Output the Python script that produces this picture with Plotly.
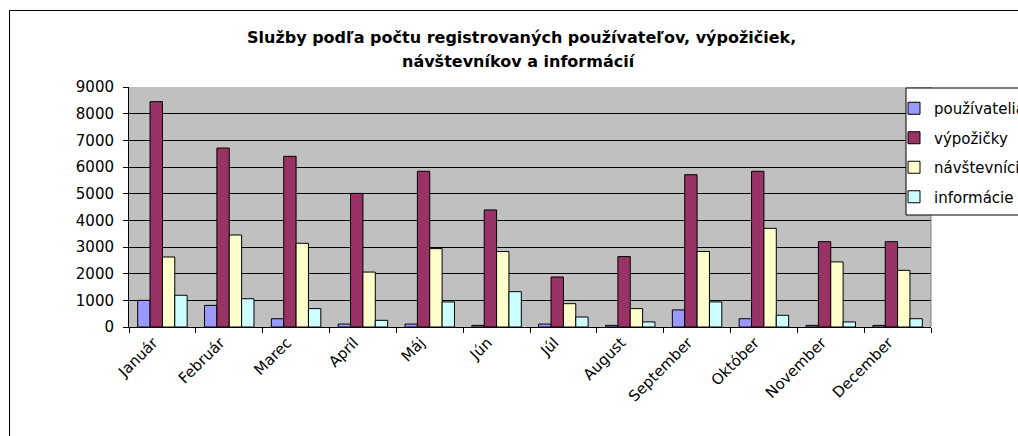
import plotly.graph_objects as go

months = ["Január", "Február", "Marec", "Apríl", "Máj", "Jún", "Júl",
          "August", "September", "Október", "November", "December"]
pouzivatelia = [1000, 810, 310, 110, 110, 60, 110, 60, 640, 310, 60, 60]
vypozicky = [8450, 6710, 6400, 5010, 5840, 4390, 1875, 2640, 5710, 5840, 3200, 3200]
navstevnici = [2625, 3450, 3140, 2060, 2940, 2830, 875, 690, 2830, 3700, 2440, 2125]
informacie = [1190, 1060, 690, 250, 940, 1325, 375, 190, 940, 440, 190, 310]

series_names = ["používatelia", "výpožičky", "návštevníci", "informácie"]
series_values = [pouzivatelia, vypozicky, navstevnici, informacie]
series_colors = ["#9999FF", "#993366", "#FFFFCC", "#CCFFFF"]

title_line1 = "Služby podľa počtu registrovaných používateľov, výpožičiek,"
title_line2 = "návštevníkov a informácií"

FONT = "DejaVu Sans"
W, H = 1018, 436
L, R, T, B = 129, 87, 87, 109
PW, PH = W - L - R, H - T - B


def px(x):
    return (x - L) / PW


def py(y):
    return (H - B - y) / PH


fig = go.Figure()
for name, vals, col in zip(series_names, series_values, series_colors):
    fig.add_trace(go.Bar(
        x=months, y=vals, name=name, legendgroup=name,
        marker=dict(color=col, line=dict(color="black", width=1)),
    ))

fig.update_layout(
    width=W, height=H,
    margin=dict(l=L, r=R, t=T, b=B, autoexpand=False),
    paper_bgcolor="white",
    plot_bgcolor="#C0C0C0",
    barmode="group", bargap=0.26, bargroupgap=0,
    font=dict(family=FONT, size=15, color="black"),
    showlegend=True,
    legend=dict(
        x=px(894), xanchor="left", y=py(92), yanchor="top",
        bgcolor="rgba(0,0,0,0)", borderwidth=0,
        traceorder="grouped", tracegroupgap=7,
        font=dict(family=FONT, size=15, color="black"),
    ),
    xaxis=dict(
        type="category", tickangle=-45, tickson="boundaries",
        ticks="outside", ticklen=5, tickcolor="black",
        showline=True, linecolor="black", linewidth=1,
        showgrid=False, tickfont=dict(family=FONT, size=15),
        ticklabelshift=-9,
    ),
    yaxis=dict(
        range=[0, 9000], dtick=1000, tick0=0,
        ticks="outside", ticklen=5, tickcolor="black",
        showline=True, linecolor="black", linewidth=1,
        showgrid=True, gridcolor="black", gridwidth=1,
        zeroline=False, ticklabelstandoff=6,
        tickfont=dict(family=FONT, size=15),
    ),
    shapes=[
        dict(type="rect", xref="paper", yref="paper",
             x0=px(9.5), x1=px(1030), y0=py(450), y1=py(10.5),
             line=dict(color="black", width=1), fillcolor="rgba(0,0,0,0)"),
        dict(type="line", xref="paper", yref="paper",
             x0=1, x1=1, y0=0, y1=1,
             line=dict(color="#808080", width=1)),
        dict(type="rect", xref="paper", yref="paper",
             x0=px(906), x1=px(1030), y0=py(215), y1=py(88),
             line=dict(color="black", width=1), fillcolor="white"),
    ],
    annotations=[
        dict(text=f"<b>{title_line1}</b>", xref="paper", yref="paper",
             x=px(521), y=py(37), xanchor="center", yanchor="middle",
             showarrow=False, font=dict(family=FONT, size=16, color="black")),
        dict(text=f"<b>{title_line2}</b>", xref="paper", yref="paper",
             x=px(519), y=py(62), xanchor="center", yanchor="middle",
             showarrow=False, font=dict(family=FONT, size=16, color="black")),
    ],
)

fig.write_html(
    "out.html",
    config={"displayModeBar": False},
    post_script="document.body.style.margin='0';document.body.style.overflow='hidden';",
)
